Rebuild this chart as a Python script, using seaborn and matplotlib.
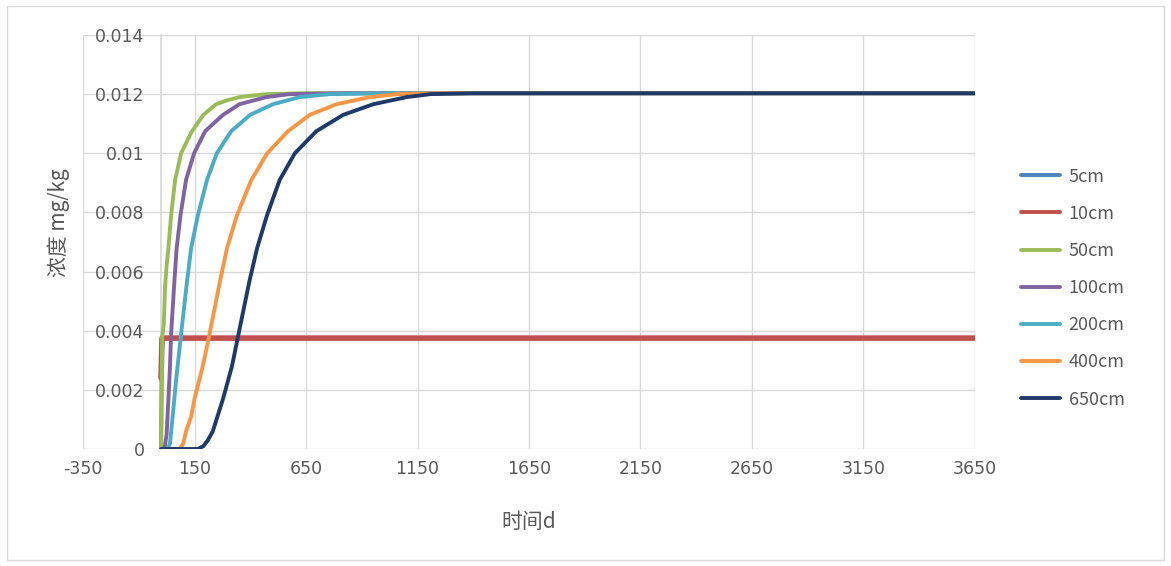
import matplotlib
matplotlib.use("Agg")
import matplotlib.pyplot as plt
import matplotlib.patches as mpatches
import pandas as pd
import seaborn as sns

# Depth series: time (d) and concentration (mg/kg)
depths = ["5cm", "10cm", "50cm", "100cm", "200cm", "400cm", "650cm"]

t_5 = [0, 3, 6, 3650]
c_5 = [0.0, 0.0030, 0.00375, 0.00375]

t_10 = [0, 4, 3650]
c_10 = [0.0024, 0.00375, 0.00375]

t_50 = [0, 5, 12, 18, 25, 33, 45, 63, 90, 135, 190, 247, 300, 352, 472, 650, 3650]
c_50 = [0, 0.0038, 0.0042, 0.0055, 0.0062, 0.0068, 0.0079, 0.0091, 0.0100,
        0.0107, 0.0113, 0.01166, 0.0118, 0.0119, 0.0120, 0.01203, 0.01203]

t_100 = [0, 15, 25, 33, 40, 45, 60, 70, 87, 112, 148, 198, 278, 352, 472, 577,
         800, 3650]
c_100 = [0, 0, 0.0005, 0.0017, 0.0028, 0.0039, 0.0057, 0.0068, 0.0079, 0.0091,
         0.0100, 0.01075, 0.0113, 0.01166, 0.0119, 0.0120, 0.01203, 0.01203]

t_200 = [0, 30, 40, 52, 67, 90, 117, 135, 165, 206, 250, 315, 400, 502, 622,
         757, 1000, 3650]
c_200 = [0, 0, 0.0002, 0.0011, 0.0023, 0.0039, 0.0057, 0.0068, 0.0079, 0.0091,
         0.0100, 0.01075, 0.0113, 0.01166, 0.0119, 0.0120, 0.01203, 0.01203]

t_400 = [0, 85, 100, 112, 135, 150, 187, 215, 265, 296, 340, 405, 476, 570,
         667, 787, 937, 1057, 1250, 3650]
c_400 = [0, 0, 0.0002, 0.0006, 0.0011, 0.0017, 0.0028, 0.0038, 0.0057, 0.0068,
         0.0079, 0.0091, 0.0100, 0.01075, 0.0113, 0.01166, 0.0119, 0.0120,
         0.01203, 0.01203]

t_650 = [0, 165, 190, 210, 232, 278, 318, 345, 397, 431, 475, 532, 600, 697,
         817, 952, 1102, 1207, 1400, 3650]
c_650 = [0, 0, 0.0001, 0.0003, 0.0006, 0.0017, 0.0028, 0.0038, 0.0057, 0.0068,
         0.0079, 0.0091, 0.0100, 0.01075, 0.0113, 0.01166, 0.0119, 0.0120,
         0.01203, 0.01203]

series_t = [t_5, t_10, t_50, t_100, t_200, t_400, t_650]
series_c = [c_5, c_10, c_50, c_100, c_200, c_400, c_650]

x_ticks = [-350, 150, 650, 1150, 1650, 2150, 2650, 3150, 3650]
y_ticks = [0, 0.002, 0.004, 0.006, 0.008, 0.01, 0.012, 0.014]
y_tick_labels = ["0", "0.002", "0.004", "0.006", "0.008", "0.01", "0.012", "0.014"]

colors = ["#4F81BD", "#C0504D", "#9BBB59", "#8064A2", "#4BACC6", "#F79646", "#1F3A68"]

frames = []
for name, t, c in zip(depths, series_t, series_c):
    frames.append(pd.DataFrame({"time": t, "conc": c, "depth": name}))
df = pd.concat(frames, ignore_index=True)

sns.set_theme(style="white")
plt.rcParams["font.family"] = ["Noto Sans CJK SC", "DejaVu Sans"]
text_color = "#595959"
grid_color = "#D9D9D9"

fig = plt.figure(figsize=(11.71, 5.66), dpi=100)
ax = fig.add_axes([0.0709, 0.2067, 0.7617, 0.7315])

sns.lineplot(data=df, x="time", y="conc", hue="depth", hue_order=depths,
             palette=colors, estimator=None, sort=True, linewidth=2.8, ax=ax)
# the 10cm line is drawn a little heavier
ax.lines[1].set_linewidth(4.0)

ax.set_xlim(-350, 3650)
ax.set_ylim(0, 0.014)
ax.set_xticks(x_ticks)
ax.set_xticklabels([str(v) for v in x_ticks])
ax.set_yticks(y_ticks)
ax.set_yticklabels(y_tick_labels)

ax.grid(True, color=grid_color, linewidth=1.0)
ax.set_axisbelow(True)
for side in ["top", "right", "bottom"]:
    ax.spines[side].set_visible(False)
# value axis crosses the category axis at x = 0
ax.spines["left"].set_position(("data", 0))
ax.spines["left"].set_color(grid_color)
ax.spines["left"].set_zorder(0.5)

ax.tick_params(axis="both", length=0, colors=text_color)
ax.tick_params(axis="y", pad=12)
ax.tick_params(axis="x", pad=8)
for lab in ax.get_xticklabels() + ax.get_yticklabels():
    lab.set_fontfamily("DejaVu Sans")
    lab.set_fontsize(12.5)
    lab.set_zorder(5)

ax.set_xlabel("时间d", fontsize=15, color=text_color, labelpad=24)
ax.set_ylabel("")
fig.text(0.050, 0.606, "浓度 mg/kg", rotation=90, fontsize=15, color=text_color,
         ha="center", va="center")

handles, labels = ax.get_legend_handles_labels()
for h in handles:
    h.set_linewidth(2.8)
ax.legend(handles, labels, loc="center left", bbox_to_anchor=(0.864, 0.491),
          bbox_transform=fig.transFigure, frameon=False, fontsize=13,
          labelcolor=text_color, handlelength=2.2, handletextpad=0.45,
          labelspacing=1.06, borderpad=0)

# chart area border
fig.patches.append(mpatches.Rectangle((0.006, 0.01), 0.988, 0.98,
                                      transform=fig.transFigure, fill=False,
                                      edgecolor=grid_color, linewidth=1.0))

fig.savefig("out.png", dpi=100, facecolor="white")
